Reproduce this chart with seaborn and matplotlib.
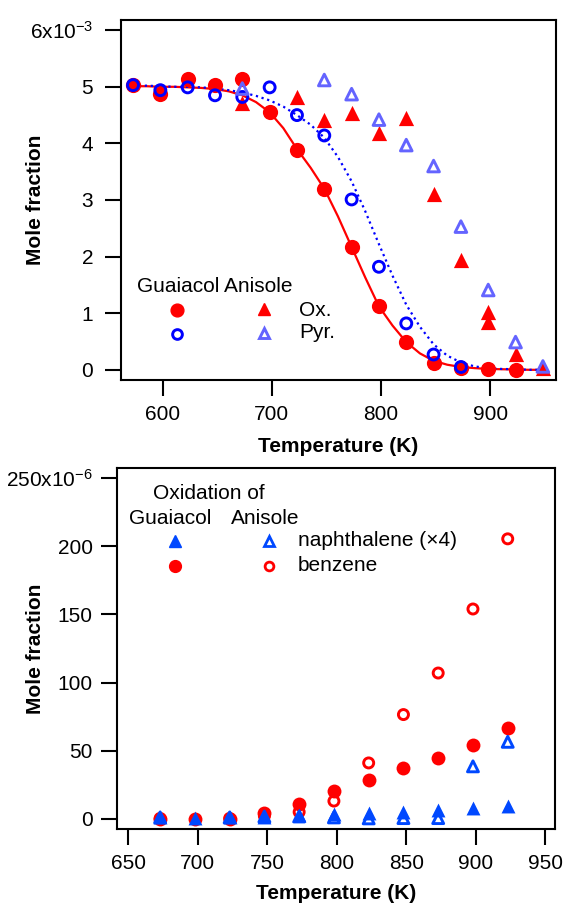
import matplotlib
matplotlib.use("Agg")
import matplotlib.pyplot as plt
import seaborn as sns
import pandas as pd

# ---------------- data: top panel (mole fraction, units of 1e-3) ----------------
guaiacol_ox_T = [573, 598, 623, 648, 673, 698, 723, 748, 773, 798, 823, 848, 873, 898, 923]
guaiacol_ox = [5.03, 4.88, 5.14, 5.03, 5.14, 4.56, 3.88, 3.20, 2.17, 1.12, 0.49, 0.12, 0.03, 0.01, 0.0]

guaiacol_pyr_T = [573, 598, 623, 648, 673, 698, 723, 748, 773, 798, 823, 848, 873]
guaiacol_pyr = [5.03, 4.94, 4.99, 4.85, 4.82, 4.99, 4.50, 4.14, 3.01, 1.82, 0.82, 0.27, 0.05]

anisole_ox_T = [673, 723, 748, 773, 798, 823, 848, 873, 898, 898, 923, 948]
anisole_ox = [4.71, 4.82, 4.41, 4.53, 4.19, 4.45, 3.11, 1.94, 1.03, 0.85, 0.28, 0.03]

anisole_pyr_T = [673, 748, 773, 798, 823, 848, 873, 898, 923, 948]
anisole_pyr = [4.97, 5.12, 4.87, 4.42, 3.97, 3.60, 2.53, 1.41, 0.49, 0.06]

fit_T = [573, 585.5, 598, 610.5, 623, 635.5, 648, 660.5, 673, 685.5, 698, 710.5, 723,
         735.5, 748, 760.5, 773, 785.5, 798, 810.5, 823, 835.5, 848, 860.5, 873,
         885.5, 898, 910.5, 923, 935.5, 948]
fit_guaiacol_ox = [5.01, 5.01, 5.00, 5.00, 4.99, 4.98, 4.96, 4.92, 4.85, 4.73, 4.55, 4.27, 3.90,
                   3.57, 3.20, 2.71, 2.17, 1.63, 1.12, 0.78, 0.49, 0.29, 0.16, 0.09, 0.05,
                   0.03, 0.015, 0.01, 0.005, 0.0, 0.0]
fit_guaiacol_pyr = [5.02, 5.02, 5.01, 5.00, 5.00, 4.99, 4.97, 4.94, 4.90, 4.84, 4.76, 4.65, 4.50,
                    4.33, 4.10, 3.76, 3.33, 2.80, 2.22, 1.66, 1.15, 0.76, 0.45, 0.25, 0.13,
                    0.06, 0.03, 0.015, 0.01, 0.0, 0.0]

top_xticks = [600, 700, 800, 900]
top_yticks = [0, 1, 2, 3, 4, 5, 6]
top_yticklabels = ["0", "1", "2", "3", "4", "5", "6x10$^{\\mathregular{-3}}$"]

# ---------------- data: bottom panel (mole fraction, units of 1e-6) ----------------
bot_T = [673, 698, 723, 748, 773, 798, 823, 848, 873, 898, 923]
guaiacol_benzene = [0.0, 0.0, 0.0, 4.5, 11.0, 20.5, 28.7, 37.0, 44.6, 54.0, 67.0]
guaiacol_naph = [1.0, 0.5, 1.0, 1.5, 2.5, 3.5, 4.2, 5.2, 6.5, 7.8, 9.3]

anisole_T = [673, 723, 748, 773, 798, 823, 848, 873, 898, 923]
anisole_benzene = [0.3, 0.3, 2.0, 5.0, 13.0, 41.0, 76.5, 107.0, 154.0, 205.5]
anisole_naph = [1.0, 1.0, 1.7, 1.7, 1.0, 0.3, 0.5, 0.5, 38.5, 56.5]

bot_xticks = [650, 700, 750, 800, 850, 900, 950]
bot_yticks = [0, 50, 100, 150, 200, 250]
bot_yticklabels = ["0", "50", "100", "150", "200", "250x10$^{\\mathregular{-6}}$"]

# ---------------- style ----------------
sns.set_theme(style="ticks")
plt.rcParams["font.family"] = ["Liberation Sans", "DejaVu Sans"]
plt.rcParams["mathtext.fontset"] = "custom"
plt.rcParams["mathtext.rm"] = "Liberation Sans"
plt.rcParams["mathtext.it"] = "Liberation Sans"
plt.rcParams["mathtext.bf"] = "Liberation Sans:bold"
for key in ("text.color", "axes.labelcolor", "xtick.color", "ytick.color", "axes.edgecolor"):
    plt.rcParams[key] = "black"

RED = "#ff0000"
BLUE = "#0000ff"
LBLUE = "#6464ff"
BLUE2 = "#0048ff"
FS = 15

fig = plt.figure(figsize=(5.64, 9.06), dpi=100)
ax1 = fig.add_axes([121 / 564, 1 - 380 / 906, 435 / 564, 360 / 906])
ax2 = fig.add_axes([117 / 564, 1 - 829 / 906, 438 / 564, 361 / 906])

# ---------------- top panel ----------------
sns.lineplot(x=fit_T, y=fit_guaiacol_ox, ax=ax1, color=RED, lw=1.6, estimator=None, sort=False, zorder=2)
sns.lineplot(x=fit_T, y=fit_guaiacol_pyr, ax=ax1, color=BLUE, lw=1.6, ls=":", estimator=None, sort=False, zorder=2)

sns.scatterplot(x=guaiacol_ox_T, y=guaiacol_ox, ax=ax1, marker="o", s=120, color=RED, edgecolor=RED, linewidth=0, zorder=3)
sns.scatterplot(x=anisole_ox_T, y=anisole_ox, ax=ax1, marker="^", s=120, color=RED, edgecolor=RED, linewidth=0, zorder=3)
sns.scatterplot(x=guaiacol_pyr_T, y=guaiacol_pyr, ax=ax1, marker="o", s=62, color=BLUE, facecolor="none", edgecolor=BLUE, linewidth=2.1, zorder=4)
sns.scatterplot(x=anisole_pyr_T, y=anisole_pyr, ax=ax1, marker="^", s=70, color=LBLUE, facecolor="none", edgecolor=LBLUE, linewidth=2.1, zorder=4)

ax1.set_xlim(562, 960)
ax1.set_ylim(-0.18, 6.18)
ax1.set_xticks(top_xticks)
ax1.set_xticklabels([str(t) for t in top_xticks])
ax1.set_yticks(top_yticks)
ax1.set_yticklabels(top_yticklabels)
ax1.set_xlabel("Temperature (K)", fontsize=FS, fontweight="bold", color="black")
ax1.set_ylabel("Mole fraction", fontsize=FS, fontweight="bold", color="black")
ax1.xaxis.set_label_coords(0.5, -0.158)
ax1.yaxis.set_label_coords(-0.175, 0.5)
ax1.tick_params(axis="both", direction="out", length=11.5, width=1.5, labelsize=FS, colors="black")
ax1.tick_params(axis="y", pad=8.5)
ax1.tick_params(axis="x", pad=6.5)

# legend (top)
ax1.text(0.037, 0.259, "Guaiacol Anisole", transform=ax1.transAxes, fontsize=FS, ha="left", va="center", color="black")
ax1.plot([0.128], [0.194], transform=ax1.transAxes, marker="o", ms=9.2, color=RED, mec=RED, ls="none", clip_on=False)
ax1.plot([0.329], [0.197], transform=ax1.transAxes, marker="^", ms=9.2, color=RED, mec=RED, ls="none", clip_on=False)
ax1.plot([0.128], [0.128], transform=ax1.transAxes, marker="o", ms=7.0, mfc="none", mec=BLUE, mew=2.1, ls="none", clip_on=False)
ax1.plot([0.329], [0.131], transform=ax1.transAxes, marker="^", ms=7.5, mfc="none", mec=LBLUE, mew=2.1, ls="none", clip_on=False)
ax1.text(0.409, 0.192, "Ox.", transform=ax1.transAxes, fontsize=FS, ha="left", va="center", color="black")
ax1.text(0.409, 0.133, "Pyr.", transform=ax1.transAxes, fontsize=FS, ha="left", va="center", color="black")

# ---------------- bottom panel ----------------
sns.scatterplot(x=bot_T, y=guaiacol_benzene, ax=ax2, marker="o", s=100, color=RED, edgecolor=RED, linewidth=0, zorder=3)
sns.scatterplot(x=anisole_T, y=anisole_benzene, ax=ax2, marker="o", s=52, color=RED, facecolor="none", edgecolor=RED, linewidth=2.1, zorder=3)
sns.scatterplot(x=bot_T, y=guaiacol_naph, ax=ax2, marker="^", s=100, color=BLUE2, edgecolor=BLUE2, linewidth=0, zorder=4)
sns.scatterplot(x=anisole_T, y=anisole_naph, ax=ax2, marker="^", s=62, color=BLUE2, facecolor="none", edgecolor=BLUE2, linewidth=2.1, zorder=4)

ax2.set_xlim(642, 957)
ax2.set_ylim(-7.5, 257.5)
ax2.set_xticks(bot_xticks)
ax2.set_xticklabels([str(t) for t in bot_xticks])
ax2.set_yticks(bot_yticks)
ax2.set_yticklabels(bot_yticklabels)
ax2.set_xlabel("Temperature (K)", fontsize=FS, fontweight="bold", color="black")
ax2.set_ylabel("Mole fraction", fontsize=FS, fontweight="bold", color="black")
ax2.xaxis.set_label_coords(0.5, -0.152)
ax2.yaxis.set_label_coords(-0.165, 0.5)
ax2.tick_params(axis="both", direction="out", length=11.5, width=1.5, labelsize=FS, colors="black")
ax2.tick_params(axis="y", pad=6.0)
ax2.tick_params(axis="x", pad=6.5)

# legend (bottom)
ax2.text(0.082, 0.928, "Oxidation of", transform=ax2.transAxes, fontsize=FS, ha="left", va="center", color="black")
ax2.text(0.027, 0.861, "Guaiacol", transform=ax2.transAxes, fontsize=FS, ha="left", va="center", color="black")
ax2.text(0.260, 0.861, "Anisole", transform=ax2.transAxes, fontsize=FS, ha="left", va="center", color="black")
ax2.plot([0.132], [0.799], transform=ax2.transAxes, marker="^", ms=8.5, color=BLUE2, mec=BLUE2, ls="none", clip_on=False)
ax2.plot([0.347], [0.798], transform=ax2.transAxes, marker="^", ms=6.5, mfc="none", mec=BLUE2, mew=2.0, ls="none", clip_on=False)
ax2.plot([0.132], [0.729], transform=ax2.transAxes, marker="o", ms=8.5, color=RED, mec=RED, ls="none", clip_on=False)
ax2.plot([0.347], [0.729], transform=ax2.transAxes, marker="o", ms=6.3, mfc="none", mec=RED, mew=2.0, ls="none", clip_on=False)
ax2.text(0.413, 0.798, "naphthalene (\u00d74)", transform=ax2.transAxes, fontsize=FS, ha="left", va="center", color="black")
ax2.text(0.413, 0.729, "benzene", transform=ax2.transAxes, fontsize=FS, ha="left", va="center", color="black")

for ax in (ax1, ax2):
    for sp in ax.spines.values():
        sp.set_visible(True)
        sp.set_linewidth(1.5)
        sp.set_color("black")
    ax.grid(False)
    ax.set_facecolor("white")

fig.savefig("out.png", dpi=100, facecolor="white")
